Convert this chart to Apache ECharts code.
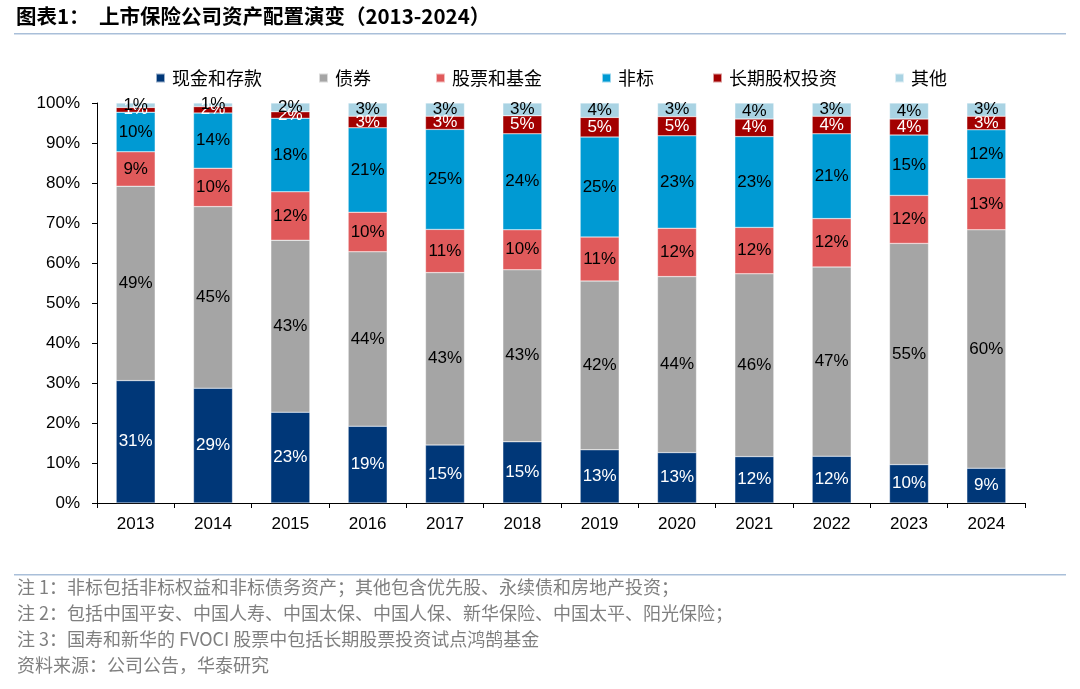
<!DOCTYPE html>
<html lang="zh">
<head>
    <meta charset="UTF-8">
    <title>上市保险公司资产配置演变</title>
    <script src="https://cdn.jsdelivr.net/npm/echarts@6/dist/echarts.min.js"></script>
    <style>
        html, body { margin: 0; padding: 0; background: #fff; }
        #main { width: 1080px; height: 689px; }
    </style>
</head>
<body>
<div id="main"></div>
<script>
    // 年份
    let years = ['2013', '2014', '2015', '2016', '2017', '2018', '2019', '2020', '2021', '2022', '2023', '2024'];
    // 各类资产占比（%）
    let cash = [30.6, 28.7, 22.7, 19.2, 14.5, 15.3, 13.3, 12.6, 11.6, 11.7, 9.6, 8.7];
    let bonds = [48.6, 45.4, 43.0, 43.6, 43.1, 43.0, 42.2, 44.0, 45.7, 47.3, 55.3, 59.6];
    let stocks = [8.6, 9.6, 12.1, 9.9, 10.8, 10.0, 11.0, 12.1, 11.6, 12.1, 12.0, 12.8];
    let nonStd = [9.9, 13.8, 18.4, 21.1, 25.0, 24.0, 25.0, 23.1, 22.7, 21.2, 15.1, 12.2];
    let longEq = [1.2, 1.6, 1.6, 2.9, 3.3, 4.5, 4.9, 4.8, 4.4, 4.4, 4.0, 3.4];
    let others = [1.1, 0.9, 2.2, 3.3, 3.3, 3.2, 3.6, 3.4, 4.0, 3.3, 4.0, 3.3];
    let yTicks = [0, 10, 20, 30, 40, 50, 60, 70, 80, 90, 100];

    let names = ['现金和存款', '债券', '股票和基金', '非标', '长期股权投资', '其他'];
    let colors = ['#003778', '#a5a5a5', '#e05a5b', '#009ad3', '#a30000', '#a9d3e3'];
    let labelColors = ['#fff', '#000', '#000', '#000', '#fff', '#000'];
    let values = [cash, bonds, stocks, nonStd, longEq, others];
    let legendLeft = [150, 313, 430, 596, 707, 889];

    let notes = [
        '注 1：非标包括非标权益和非标债务资产；其他包含优先股、永续债和房地产投资；',
        '注 2：包括中国平安、中国人寿、中国太保、中国人保、新华保险、中国太平、阳光保险；',
        '注 3：国寿和新华的 FVOCI 股票中包括长期股票投资试点鸿鹄基金',
        '资料来源：公司公告，华泰研究'
    ];

    let myChart = echarts.init(document.getElementById('main'));

    let series = names.map(function (n, i) {
        return {
            name: n,
            type: 'bar',
            stack: 'total',
            barWidth: 39,
            data: values[i],
            itemStyle: { color: colors[i], borderColor: 'rgba(255,255,255,0.6)', borderWidth: 0.5 },
            label: {
                show: true,
                position: 'inside',
                color: labelColors[i],
                fontFamily: 'Liberation Sans, Arial',
                fontSize: 17,
                formatter: function (p) { return Math.round(p.value) + '%'; }
            }
        };
    });

    let legends = names.map(function (n, i) {
        return {
            data: [n],
            left: legendLeft[i],
            top: 64,
            itemWidth: 9,
            itemHeight: 9,
            itemGap: 0,
            icon: 'rect',
            textStyle: { fontFamily: 'Noto Sans CJK SC', fontSize: 18, color: '#000', padding: [0, 0, 0, 2] }
        };
    });

    let graphics = [
        {
            type: 'text', left: 16, top: 6,
            style: { text: '图表1：  上市保险公司资产配置演变（2013-2024）', font: 'bold 20.5px "Noto Sans CJK SC"', fill: '#000' }
        },
        { type: 'rect', shape: { x: 14, y: 33, width: 1052, height: 1.5 }, style: { fill: '#a9bfd9' } },
        { type: 'rect', shape: { x: 14, y: 574, width: 1052, height: 1.5 }, style: { fill: '#a9bfd9' } }
    ];
    notes.forEach(function (t, i) {
        graphics.push({
            type: 'text', left: 17, top: 578 + i * 26,
            style: { text: t, font: '18px "Noto Sans CJK SC"', fill: '#7f7f7f' }
        });
    });

    let option = {
        animation: false,
        color: colors,
        legend: legends,
        graphic: graphics,
        grid: { left: 97, right: 55, top: 103, bottom: 186 },
        xAxis: {
            type: 'category',
            data: years,
            axisLine: { lineStyle: { color: '#000', width: 1 } },
            axisTick: { show: true, length: 5, lineStyle: { color: '#000' } },
            axisLabel: { color: '#000', fontSize: 17, fontFamily: 'Liberation Sans, Arial', margin: 13 }
        },
        yAxis: {
            type: 'value',
            min: yTicks[0],
            max: yTicks[yTicks.length - 1],
            interval: yTicks[1] - yTicks[0],
            axisLine: { show: true, lineStyle: { color: '#000', width: 1 } },
            axisTick: { show: true, length: 5, lineStyle: { color: '#000' } },
            splitLine: { show: false },
            axisLabel: {
                color: '#000', fontSize: 17, fontFamily: 'Liberation Sans, Arial', margin: 17,
                formatter: '{value}%'
            }
        },
        series: series
    };
    myChart.setOption(option);
</script>
</body>
</html>
